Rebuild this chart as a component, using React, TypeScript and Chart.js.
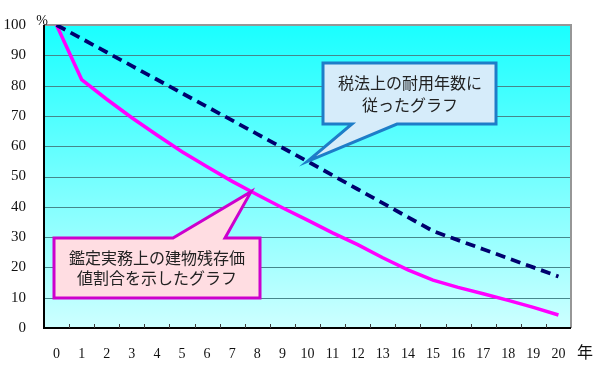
import React, { useEffect, useRef } from "react";
import { Chart, registerables } from "chart.js";

Chart.register(...registerables);

const years = ["0","1","2","3","4","5","6","7","8","9","10","11","12","13","14","15","16","17","18","19","20"];
const appraisalValues = [100, 82, 75.5, 69.4, 63.7, 58.2, 53.2, 48.4, 44, 39.7, 35.6, 31.4, 27.5, 23.2, 19.2, 15.8, 13.4, 11.3, 9.1, 6.8, 4.3];
const taxValues = [100, 95.5, 91, 86.5, 82, 77.5, 73, 68.5, 64, 59.5, 55, 50.4, 45.8, 41.2, 36.6, 32, 29, 26, 23, 20, 17];
const taxLabel = ["税法上の耐用年数に", "従ったグラフ"];
const appraisalLabel = ["鑑定実務上の建物残存価", "値割合を示したグラフ"];

const JP = '"Noto Sans CJK JP", "Noto Sans", sans-serif';
const SERIF = '"Liberation Serif", "DejaVu Serif", serif';

const decor = {
  id: "decor",
  beforeDatasetsDraw(chart: any) {
    const { ctx, chartArea: a } = chart;
    ctx.save();
    const g = ctx.createLinearGradient(0, a.top, 0, a.bottom);
    g.addColorStop(0, "rgb(25,255,255)");
    g.addColorStop(1, "rgb(205,255,255)");
    ctx.fillStyle = g;
    ctx.fillRect(a.left, a.top, a.right - a.left, a.bottom - a.top);
    const ys = chart.scales.y;
    ctx.strokeStyle = "rgb(70,135,140)";
    ctx.lineWidth = 1.2;
    for (let v = 10; v < 100; v += 10) {
      const py = Math.round(ys.getPixelForValue(v)) + 0.5;
      ctx.beginPath();
      ctx.moveTo(a.left, py);
      ctx.lineTo(a.right, py);
      ctx.stroke();
    }
    ctx.strokeStyle = "rgb(150,150,150)";
    ctx.lineWidth = 2;
    ctx.beginPath();
    ctx.moveTo(a.left, a.top);
    ctx.lineTo(a.right, a.top);
    ctx.lineTo(a.right, a.bottom);
    ctx.stroke();
    ctx.strokeStyle = "#000";
    ctx.lineWidth = 2;
    ctx.beginPath();
    ctx.moveTo(a.left, a.top);
    ctx.lineTo(a.left, a.bottom);
    ctx.lineTo(a.right, a.bottom);
    ctx.stroke();
    const w = (a.right - a.left) / years.length;
    ctx.strokeStyle = "rgb(60,60,60)";
    ctx.lineWidth = 1;
    for (let i = 1; i < years.length; i++) {
      const px = Math.round(a.left + w * i) + 0.5;
      ctx.beginPath();
      ctx.moveTo(px, a.bottom);
      ctx.lineTo(px, a.bottom - 4);
      ctx.stroke();
    }
    ctx.restore();
  },
  afterDatasetsDraw(chart: any) {
    const { ctx } = chart;
    const xs = chart.scales.x;
    const ys = chart.scales.y;
    ctx.save();
    const tip1x = xs.getPixelForValue(10);
    const tip1y = ys.getPixelForValue(taxValues[10]);
    drawCallout(ctx, 323, 63, 496, 124, "bottom", 352, 397, tip1x, tip1y,
      "rgb(214,236,250)", "rgb(30,125,200)", taxLabel, 410, 22);
    const tip2x = xs.getPixelForValue(7) + (xs.getPixelForValue(8) - xs.getPixelForValue(7)) * 0.75;
    const tip2y = ys.getPixelForValue(45);
    drawCallout(ctx, 54, 238, 260, 298, "top", 173, 225, tip2x, tip2y,
      "rgb(255,221,226)", "rgb(205,0,205)", appraisalLabel, 157, 20);
    ctx.fillStyle = "#111";
    ctx.font = "14px " + SERIF;
    ctx.textAlign = "center";
    ctx.textBaseline = "middle";
    ctx.fillText("%", 42, 21);
    ctx.font = "16px " + JP;
    ctx.fillText("年", 585, 352);
    ctx.restore();
  },
};

function drawCallout(ctx: any, l: number, t: number, r: number, b: number, side: string,
  bx1: number, bx2: number, tx: number, ty: number, fill: string, stroke: string,
  lines: string[], cx: number, lh: number) {
  ctx.beginPath();
  if (side === "bottom") {
    ctx.moveTo(l, t);
    ctx.lineTo(r, t);
    ctx.lineTo(r, b);
    ctx.lineTo(bx2, b);
    ctx.lineTo(tx, ty);
    ctx.lineTo(bx1, b);
    ctx.lineTo(l, b);
    ctx.closePath();
  } else {
    ctx.moveTo(l, t);
    ctx.lineTo(bx1, t);
    ctx.lineTo(tx, ty);
    ctx.lineTo(bx2, t);
    ctx.lineTo(r, t);
    ctx.lineTo(r, b);
    ctx.lineTo(l, b);
    ctx.closePath();
  }
  ctx.fillStyle = fill;
  ctx.fill();
  ctx.strokeStyle = stroke;
  ctx.lineWidth = 3;
  ctx.lineJoin = "miter";
  ctx.stroke();
  ctx.fillStyle = "#222";
  ctx.font = "16px " + JP;
  ctx.textAlign = "center";
  ctx.textBaseline = "middle";
  const mid = (t + b) / 2;
  lines.forEach((s, i) => {
    ctx.fillText(s, cx, mid + (i - (lines.length - 1) / 2) * lh);
  });
}

export default function App() {
  const ref = useRef<HTMLCanvasElement>(null);
  useEffect(() => {
    if (!ref.current) return;
    const chart = new Chart(ref.current, {
      type: "line",
      data: {
        labels: years,
        datasets: [
          {
            label: "tax",
            data: taxValues,
            borderColor: "rgb(0,0,110)",
            borderWidth: 3.8,
            borderDash: [10, 6],
            pointRadius: 0,
            fill: false,
            tension: 0,
          },
          {
            label: "appraisal",
            data: appraisalValues,
            borderColor: "rgb(255,0,255)",
            borderWidth: 3.5,
            pointRadius: 0,
            fill: false,
            tension: 0,
          },
        ],
      },
      plugins: [decor],
      options: {
        animation: false,
        responsive: false,
        devicePixelRatio: 1,
        layout: { padding: { top: 25, right: 38, left: 0, bottom: 0 } },
        plugins: { legend: { display: false }, tooltip: { enabled: false } },
        scales: {
          x: {
            offset: true,
            grid: { display: false },
            border: { display: false },
            ticks: {
              color: "#111",
              font: { family: SERIF, size: 14 },
              padding: 10,
              maxRotation: 0,
              autoSkip: false,
            },
            afterFit(scale: any) { scale.height = 41; },
          },
          y: {
            min: 0,
            max: 100,
            grid: { display: false },
            border: { display: false },
            ticks: {
              stepSize: 10,
              color: "#111",
              font: { family: SERIF, size: 15 },
              padding: 10,
            },
            afterFit(scale: any) { scale.width = 44; },
          },
        },
      },
    });
    return () => chart.destroy();
  }, []);
  return (
    <div style={{ position: "fixed", left: 0, top: 0, width: 609, height: 369, background: "#fff" }}>
      <canvas ref={ref} width={609} height={369} style={{ width: 609, height: 369, display: "block" }} />
    </div>
  );
}
